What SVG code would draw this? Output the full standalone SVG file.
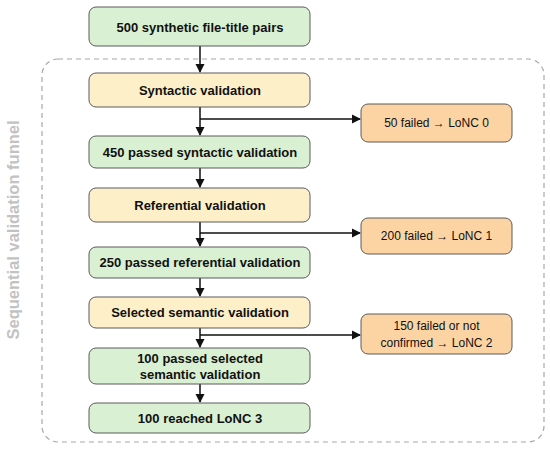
<svg xmlns="http://www.w3.org/2000/svg" width="550" height="449" viewBox="0 0 550 449">
<defs>
<marker id="ah" markerWidth="10" markerHeight="10" refX="8" refY="5" orient="auto" markerUnits="userSpaceOnUse">
<path d="M0,0.5 L9,5 L0,9.5 Z" fill="#111"/>
</marker>
<style>
.g{fill:#d9f0d2;stroke:#5a5a5a;stroke-width:1}
.y{fill:#fdf0c9;stroke:#5a5a5a;stroke-width:1}
.o{fill:#fcd4a4;stroke:#5a5a5a;stroke-width:1}
.t{font-family:"Liberation Sans",Arial,sans-serif;font-size:13px;font-weight:bold;fill:#111;text-anchor:middle;dominant-baseline:central}
.to{font-family:"Liberation Sans",Arial,sans-serif;font-size:12px;font-weight:normal;fill:#111;text-anchor:middle;dominant-baseline:central}
.c{fill:none;stroke:#111;stroke-width:1.5}
</style>
</defs>
<rect x="42" y="59" width="502" height="383" rx="16" fill="none" stroke="#a8a8a8" stroke-width="1.2" stroke-dasharray="5,4"/>
<text transform="translate(13,230) rotate(-90)" font-family="Liberation Sans,Arial,sans-serif" font-size="16.5" font-weight="bold" fill="#c2c2c2" text-anchor="middle" dominant-baseline="central">Sequential validation funnel</text>
<g id="connectors">
<line class="c" x1="200" y1="46" x2="200" y2="72" marker-end="url(#ah)"/>
<line class="c" x1="200" y1="107" x2="200" y2="135" marker-end="url(#ah)"/>
<line class="c" x1="200" y1="119" x2="360" y2="119" marker-end="url(#ah)"/>
<line class="c" x1="200" y1="168" x2="200" y2="187" marker-end="url(#ah)"/>
<line class="c" x1="200" y1="222" x2="200" y2="246" marker-end="url(#ah)"/>
<line class="c" x1="200" y1="233" x2="360" y2="233" marker-end="url(#ah)"/>
<line class="c" x1="200" y1="278" x2="200" y2="296" marker-end="url(#ah)"/>
<line class="c" x1="200" y1="328" x2="200" y2="347" marker-end="url(#ah)"/>
<line class="c" x1="200" y1="335" x2="360" y2="335" marker-end="url(#ah)"/>
<line class="c" x1="200" y1="384" x2="200" y2="402" marker-end="url(#ah)"/>
</g>
<g id="n1"><rect class="g" x="89" y="7" width="221" height="39" rx="7"/><text class="t" x="200" y="27">500 synthetic file-title pairs</text></g>
<g id="n2"><rect class="y" x="89" y="73" width="221" height="34" rx="7"/><text class="t" x="200" y="90">Syntactic validation</text></g>
<g id="n3"><rect class="g" x="89" y="136" width="221" height="32" rx="7"/><text class="t" x="200" y="152">450 passed syntactic validation</text></g>
<g id="n4"><rect class="y" x="89" y="188" width="221" height="34" rx="7"/><text class="t" x="200" y="205">Referential validation</text></g>
<g id="n5"><rect class="g" x="89" y="247" width="221" height="31" rx="7"/><text class="t" x="200" y="262.5">250 passed referential validation</text></g>
<g id="n6"><rect class="y" x="89" y="297" width="221" height="31" rx="7"/><text class="t" x="200" y="312.5">Selected semantic validation</text></g>
<g id="n7"><rect class="g" x="89" y="348" width="221" height="36" rx="7"/><text class="t" x="200" y="358">100 passed selected</text><text class="t" x="200" y="374">semantic validation</text></g>
<g id="n8"><rect class="g" x="89" y="403" width="221" height="30" rx="7"/><text class="t" x="200" y="418">100 reached LoNC 3</text></g>
<g id="f0"><rect class="o" x="361" y="104" width="151" height="38" rx="7"/><text class="to" x="436.5" y="123">50 failed → LoNC 0</text></g>
<g id="f1"><rect class="o" x="361" y="218" width="151" height="36" rx="7"/><text class="to" x="436.5" y="236">200 failed → LoNC 1</text></g>
<g id="f2"><rect class="o" x="361" y="314" width="151" height="40" rx="7"/><text class="to" x="436.5" y="326">150 failed or not</text><text class="to" x="436.5" y="343">confirmed → LoNC 2</text></g>
</svg>
